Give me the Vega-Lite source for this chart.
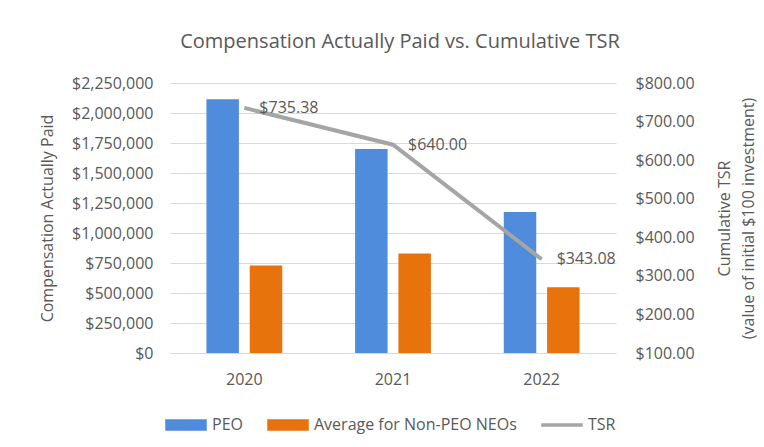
{
  "$schema": "https://vega.github.io/schema/vega-lite/v6.json",
  "width": 446,
  "height": 270,
  "autosize": {"type": "none"},
  "padding": {"left": 170, "top": 83, "right": 148, "bottom": 94},
  "background": "white",
  "config": {
    "font": "Open Sans",
    "view": {"stroke": null},
    "axis": {"labelColor": "#595959", "titleColor": "#595959", "labelFontSize": 16, "titleFontSize": 16, "titleFontWeight": "normal"},
    "legend": {"labelColor": "#595959", "labelFontSize": 16}
  },
  "title": {"text": "Compensation Actually Paid vs. Cumulative TSR", "fontSize": 20, "fontWeight": "normal", "color": "#595959", "anchor": "middle", "offset": 23, "dx": 7},
  "datasets": {
    "comp": [
      {"year": "2020", "series": "PEO", "value": 2115000},
      {"year": "2020", "series": "Average for Non-PEO NEOs", "value": 730000},
      {"year": "2021", "series": "PEO", "value": 1700000},
      {"year": "2021", "series": "Average for Non-PEO NEOs", "value": 830000},
      {"year": "2022", "series": "PEO", "value": 1175000},
      {"year": "2022", "series": "Average for Non-PEO NEOs", "value": 547000}
    ],
    "tsr": [
      {"year": "2020", "tsr": 735.38},
      {"year": "2021", "tsr": 640.00},
      {"year": "2022", "tsr": 343.08}
    ]
  },
  "encoding": {
    "x": {"field": "year", "type": "nominal", "scale": {"paddingInner": 0.49, "paddingOuter": 0.245},
      "axis": {"title": null, "labelAngle": 0, "ticks": false, "domain": true, "domainColor": "#d9d9d9", "labelPadding": 18}}
  },
  "layer": [
    {
      "data": {"name": "comp"},
      "mark": {"type": "bar"},
      "encoding": {
        "xOffset": {"field": "series", "type": "nominal", "sort": ["PEO", "Average for Non-PEO NEOs"], "scale": {"paddingInner": 0.25, "paddingOuter": 0}},
        "y": {"field": "value", "type": "quantitative", "scale": {"domain": [0, 2250000], "nice": false},
          "axis": {"title": "Compensation Actually Paid", "values": [0, 250000, 500000, 750000, 1000000, 1250000, 1500000, 1750000, 2000000, 2250000], "format": "$,.0f", "domain": false, "ticks": false, "grid": true, "gridColor": "#d9d9d9", "labelPadding": 17, "titlePadding": 16}},
        "color": {"field": "series", "type": "nominal",
          "scale": {"domain": ["PEO", "Average for Non-PEO NEOs", "TSR"], "range": ["#4F8CDB", "#E8720C", "#A5A5A5"]},
          "legend": {"title": null, "orient": "none", "legendX": -5, "legendY": 321, "direction": "horizontal", "padding": 0,
            "symbolSize": 1600, "labelOffset": 5, "columnPadding": 22, "labelLimit": 400,
            "encode": {"symbols": {"update": {
              "shape": {"signal": "datum.value === 'TSR' ? 'M-1,-0.05H1V0.05H-1Z' : 'M-1,-0.25H1V0.25H-1Z'"},
              "fill": {"scale": "color", "field": "value"},
              "stroke": {"value": "transparent"},
              "opacity": {"value": 1}
            }}}}}
      }
    },
    {
      "data": {"name": "tsr"},
      "encoding": {
        "y": {"field": "tsr", "type": "quantitative", "scale": {"domain": [100, 800], "nice": false},
          "axis": {"orient": "right", "title": ["Cumulative TSR", "(value of initial $100 investment)"], "titleAngle": 270, "titleLineHeight": 24, "values": [100, 200, 300, 400, 500, 600, 700, 800], "format": "$,.2f", "domain": false, "ticks": false, "grid": false, "labelPadding": 19, "titlePadding": 14}}
      },
      "layer": [
        {
          "mark": {"type": "line", "strokeWidth": 4},
          "encoding": {
            "color": {"datum": "TSR"}
          }
        },
        {
          "mark": {"type": "text", "align": "left", "baseline": "middle", "dx": 15, "fontSize": 16, "color": "#595959"},
          "encoding": {
            "text": {"field": "tsr", "type": "quantitative", "format": "$,.2f"}
          }
        }
      ]
    }
  ],
  "resolve": {"scale": {"y": "independent"}}
}
